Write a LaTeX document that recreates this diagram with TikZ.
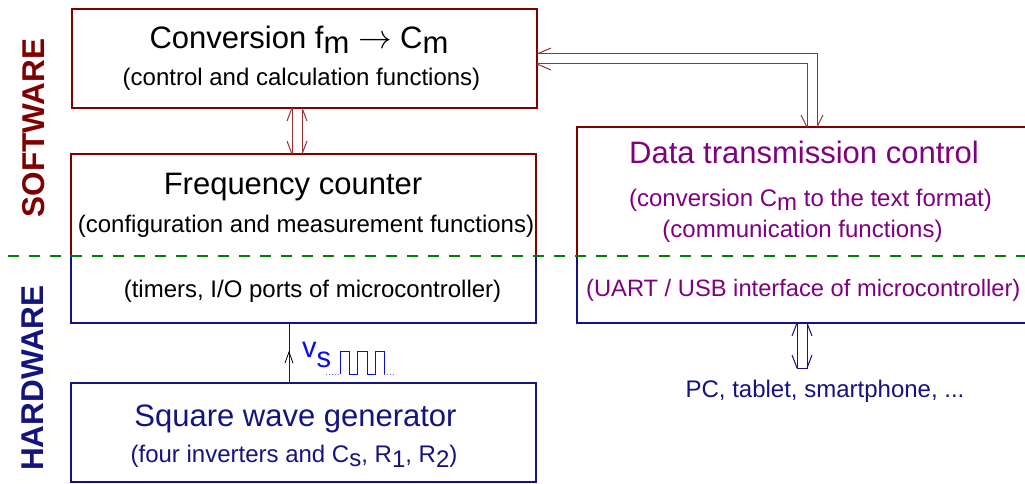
\documentclass[tikz,border=0pt]{standalone}
\usepackage{graphicx}
\usepackage{fontspec}
\setmainfont{Liberation Sans}
\definecolor{dred}{RGB}{128,0,0}
\definecolor{lred}{RGB}{155,50,50}
\definecolor{navy}{RGB}{20,20,128}
\definecolor{purp}{RGB}{128,0,128}
\definecolor{dgreen}{RGB}{0,128,0}
\definecolor{vblue}{RGB}{10,10,235}
\newcommand{\lowr}[2][5pt]{\raisebox{-#1}{#2}}
\begin{document}
\begin{tikzpicture}[x=1pt,y=-1pt,
  boxn/.style={rectangle, inner sep=0pt, outer sep=0pt, line width=2pt},
  ttl/.style={font=\fontsize{31}{36}\selectfont, anchor=base, inner sep=0pt},
  subt/.style={font=\fontsize{24}{28}\selectfont, anchor=base, inner sep=0pt},
  side/.style={font=\fontsize{31.5}{36}\selectfont\bfseries, rotate=90, inner sep=0pt},
  dblr/.style={lred, line width=1pt},
  dbln/.style={navy, line width=1pt},
  redb/.style={dred, line width=2pt},
  navb/.style={navy, line width=2pt}]
\clip (0,0) rectangle (1025,484);
\fill[white] (0,0) rectangle (1025,484);

% boxes
\node[boxn, draw=dred, minimum width=465pt, minimum height=99pt] (conv) at (304.5,58.5) {};
\node[boxn, minimum width=465pt, minimum height=169pt] (fc) at (303.5,238.5) {};
\node[boxn, minimum width=454pt, minimum height=196pt] (dtc) at (804,225) {};
\node[boxn, draw=navy, minimum width=465pt, minimum height=99pt] (swg) at (303.5,432.5) {};

% separator
\coordinate (sepL) at (8,256);
\coordinate (sepR) at (1025,256);
\draw[redb] (fc.west |- sepL) -- (fc.north west) -- (fc.north east) -- (fc.east |- sepL);
\draw[navb] (fc.west |- sepL) -- (fc.south west) -- (fc.south east) -- (fc.east |- sepL);
\draw[redb] (dtc.west |- sepL) -- (dtc.north west) -- (dtc.north east) -- (dtc.east |- sepL);
\draw[navb] (dtc.west |- sepL) -- (dtc.south west) -- (dtc.south east) -- (dtc.east |- sepL);
\draw[dgreen, line width=2pt, dash pattern=on 11pt off 10pt] (sepL) -- (sepR);

% side labels
\node[side, text=dred] (sw) at (33.5,128) {SOFTWARE};
\node[side, text=navy] (hw) at (33,378) {HARDWARE};

% texts
\node[ttl] (convt) at (299,49) {Conversion f\lowr{m} \scalebox{1.35}{$\rightarrow$} C\lowr{m}};
\node[subt] (convs) at (301.5,86) {(control and calculation functions)};
\node[ttl] (fct) at (293,194) {Frequency counter};
\node[subt] (fcs) at (306,232) {(configuration and measurement functions)};
\node[subt] (fch) at (312.5,297) {(timers, I/O ports of microcontroller)};
\node[ttl, text=purp] (dtct) at (804,164) {Data transmission control};
\node[subt, text=purp] (dtcs) at (810.5,206) {(conversion C\lowr[4pt]{m} to the text format)};
\node[subt, text=purp] (dtcc) at (802.5,237) {(communication functions)};
\node[subt, text=purp, anchor=base west, font=\fontsize{23.7}{28}\selectfont] (dtch) at (586,296) {(UART / USB interface of microcontroller)};
\node[ttl, text=navy] (swgt) at (295.5,426) {Square wave generator};
\node[subt, text=navy] (swgs) at (294,462) {(four inverters and C\lowr[4pt]{s}, R\lowr{1}, R\lowr{2})};
\node[subt, text=navy] (pc) at (825,397) {PC, tablet, smartphone, ...};

% double arrow conv <-> fc
\coordinate (a1l) at (292,130);
\coordinate (a1r) at (302,130);
\draw[dblr] (a1l |- conv.south) -- (a1l |- fc.north);
\draw[dblr] (a1r |- conv.south) -- (a1r |- fc.north);
\draw[dblr] (a1l |- conv.south) -- ++(-5,13);
\draw[dblr] (a1r |- conv.south) -- ++(5,13);
\draw[dblr] (a1l |- fc.north) -- ++(-5,-13);
\draw[dblr] (a1r |- fc.north) -- ++(5,-13);

% double arrow conv <-> dtc
\coordinate (a2o) at (817,54);
\coordinate (a2i) at (807,64);
\draw[dblr] (conv.east |- a2o) -- (a2o) -- (a2o |- dtc.north);
\draw[dblr] (conv.east |- a2i) -- (a2i) -- (a2i |- dtc.north);
\draw[dblr] (conv.east |- a2o) -- ++(14,-6);
\draw[dblr] (conv.east |- a2i) -- ++(14,6);
\draw[dblr] (a2o |- dtc.north) -- ++(6,-12);
\draw[dblr] (a2i |- dtc.north) -- ++(-6,-12);

% double arrow dtc <-> pc
\coordinate (a3l) at (797,368);
\coordinate (a3r) at (807,368);
\draw[dbln] (a3l |- dtc.south) -- (a3l) -- (a3r) -- (a3r |- dtc.south);
\draw[dbln] (a3l |- dtc.south) -- ++(-5,13);
\draw[dbln] (a3r |- dtc.south) -- ++(5,13);
\draw[dbln] (a3l) -- ++(-5,-13);
\draw[dbln] (a3r) -- ++(5,-13);

% vs signal
\coordinate (vst) at (289,352);
\draw[navy, line width=1pt] (vst |- swg.north) -- (vst |- fc.south);
\draw[black, line width=0.8pt] (vst) ++(-4,11) -- (vst) -- ++(4,11);
\node[anchor=base west, inner sep=0pt, text=vblue, font=\fontsize{29}{32}\selectfont] (vs) at (302,357) {v\lowr[10pt]{s}};
\draw[vblue, line width=0.9pt] (340,374) -- (340,351) -- (349,351) -- (349,374) -- (357,374) -- (357,351) -- (367,351) -- (367,374) -- (375,374) -- (375,351) -- (384,351) -- (384,374);
\draw[vblue!60, line width=0.9pt, dotted] (326,374) -- (340,374);
\draw[vblue!60, line width=0.9pt, dotted] (384,374) -- (393,374);
\end{tikzpicture}
\end{document}
